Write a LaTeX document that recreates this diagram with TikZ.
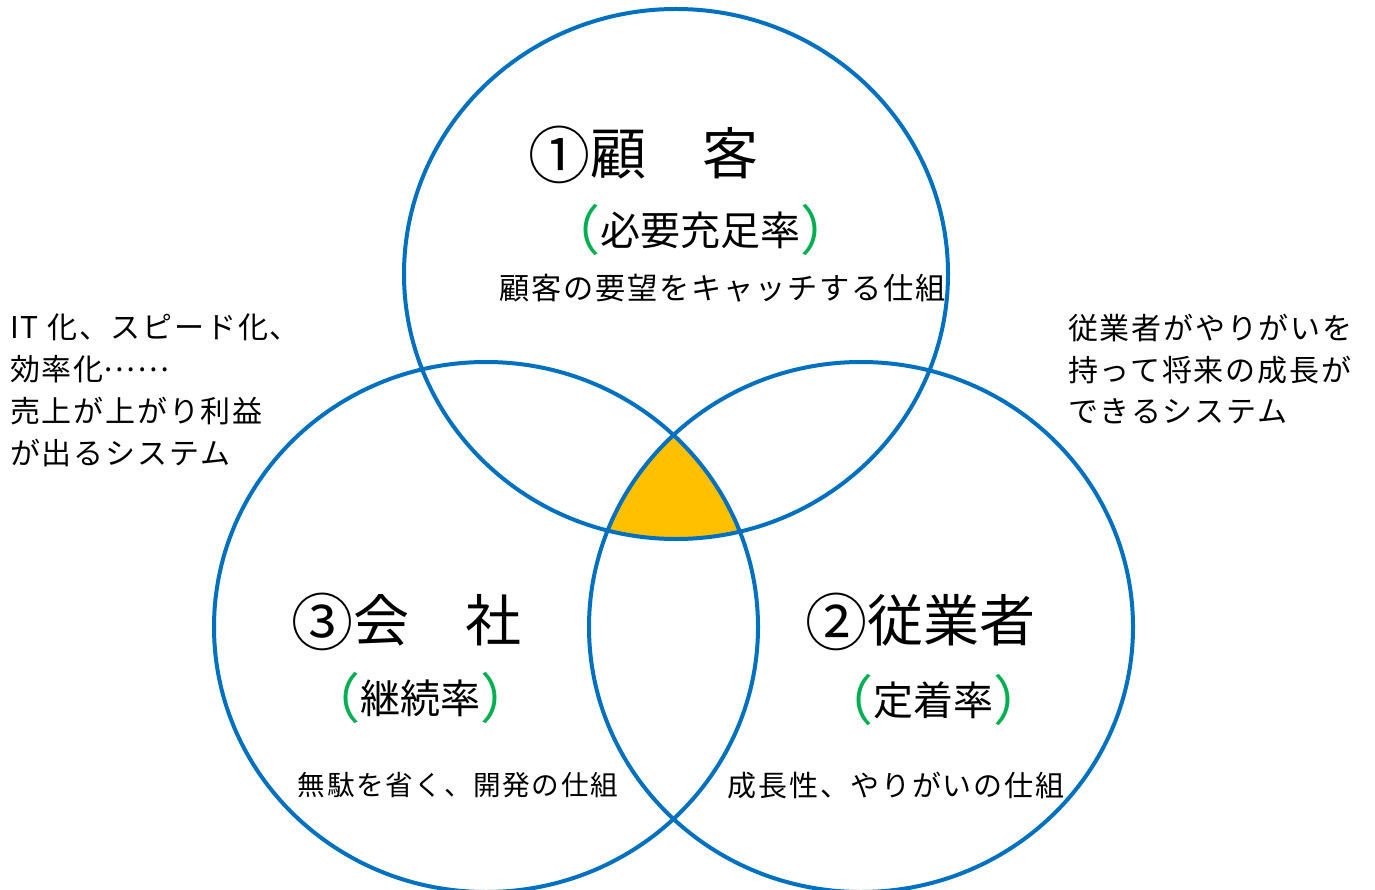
\documentclass[tikz,border=0pt]{standalone}
\usepackage{fontspec}
\setmainfont{Noto Sans CJK JP}
\newfontfamily\jpwide[LetterSpace=6]{Noto Sans CJK JP}
\usetikzlibrary{shapes.geometric}
\definecolor{ringblue}{RGB}{0,112,192}
\definecolor{coreyellow}{RGB}{255,192,0}
\definecolor{parengreen}{RGB}{0,176,80}
\tikzset{
x=1pt, y=-1pt,
ring/.style={ellipse, draw=ringblue, line width=4pt, minimum width=544pt, minimum height=530pt, inner sep=0pt},
title/.style={inner sep=0pt, font=\fontsize{56}{60}\selectfont},
rate/.style={inner sep=0pt, font=\fontsize{40}{44}\selectfont},
caption/.style={inner sep=0pt, font=\jpwide\fontsize{29}{34}\selectfont},
note/.style={inner sep=0pt, align=left, anchor=north west, font=\jpwide\fontsize{30}{41.7}\selectfont},
}
\newcommand{\paren}[1]{{\color{parengreen}\fontsize{54}{54}\selectfont\raisebox{-0.09em}{（}}#1{\color{parengreen}\fontsize{54}{54}\selectfont\raisebox{-0.09em}{）}}}
\newcommand{\num}[1]{{\fontsize{62}{62}\selectfont\raisebox{-0.06em}{#1}}}

\begin{document}
\begin{tikzpicture}
    \useasboundingbox (0,0) rectangle (1375,890);

    % common part of the three rings
    \begin{scope}
        \clip (676,274) ellipse [x radius=272, y radius=265];
        \clip (486,627) ellipse [x radius=272, y radius=265];
        \fill[coreyellow] (861,627) ellipse [x radius=272, y radius=265];
    \end{scope}

    \node[ring] (customer) at (676,274) {};
    \node[ring] (company) at (486,627) {};
    \node[ring] (staff) at (861,627) {};

    \node[title] (customer title) at (643,155) {\num{①}顧　客};
    \node[rate] (customer rate) at (700,230) {\paren{必要充足率}};
    \node[caption, font=\jpwide\fontsize{30.2}{34}\selectfont] (customer text) at (723,288) {顧客の要望をキャッチする仕組};

    \node[title] (company title) at (406,622) {\num{③}会　社};
    \node[rate] (company rate) at (420,698) {\paren{継続率}};
    \node[caption, font=\jpwide\fontsize{27.6}{34}\selectfont] (company text) at (458,785) {無駄を省く、開発の仕組};

    \node[title] (staff title) at (920,622) {\num{②}従業者};
    \node[rate] (staff rate) at (933,700) {\paren{定着率}};
    \node[caption] (staff text) at (896,785) {成長性、やりがいの仕組};

    \node[note] (company note) at (10,314) {IT 化、スピード化、\\効率化\raisebox{0.32em}{……}\\売上が上がり利益\\が出るシステム};
    \node[note] (staff note) at (1068,314) {従業者がやりがいを\\持って将来の成長が\\できるシステム};

\end{tikzpicture}
\end{document}
